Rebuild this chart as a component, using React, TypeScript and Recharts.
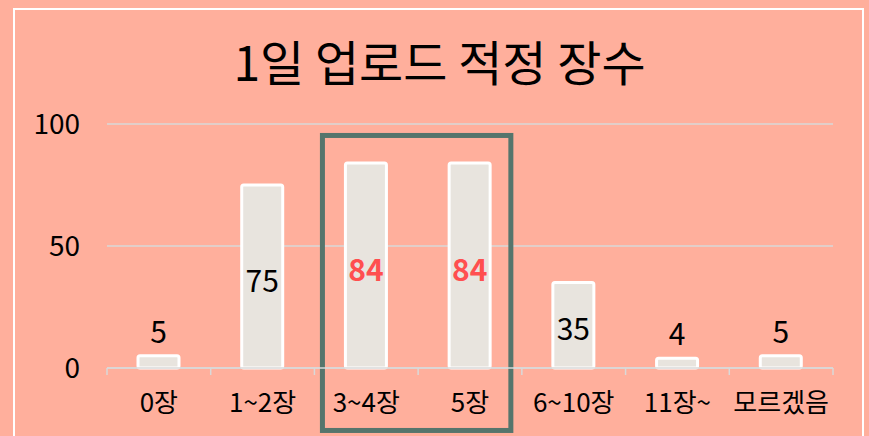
import {
  BarChart,
  Bar,
  XAxis,
  YAxis,
  CartesianGrid,
  LabelList,
  ReferenceArea,
} from "recharts";

const categories = ["0장", "1~2장", "3~4장", "5장", "6~10장", "11장~", "모르겠음"];
const values = [5, 75, 84, 84, 35, 4, 5];
const highlighted = ["3~4장", "5장"];
const yTicks = [0, 50, 100];
// box around the highlighted pair, in value units (runs down past the axis labels)
const boxRange = [-25.6, 95.3];

const data = categories.map((name, i) => ({ name, value: values[i] }));

const FONT = "'Noto Sans CJK KR', 'Noto Sans', sans-serif";
const TICK_MARGIN = 26;
const GRID = "#D9D9D9";

const ValueLabel = (props: any) => {
  const { x, y, width, height, value, index } = props;
  const hot = highlighted.includes(categories[index]);
  const inside = value >= 20;
  const cy = inside ? y + height / 2 + 2 : y - 26;
  return (
    <text
      x={x + width / 2}
      y={cy}
      textAnchor="middle"
      dominantBaseline="central"
      fontSize={30}
      fontFamily={FONT}
      fontWeight={hot ? 700 : 400}
      fill={hot ? "#FF4F4F" : "#000"}
    >
      {value}
    </text>
  );
};

// category label plus tick marks on the band edges (Excel style)
const CategoryTick = (props: any) => {
  const { x, y, payload, index } = props;
  const half = payload?.offset || 726 / categories.length / 2;
  const axisY = y - TICK_MARGIN;
  const last = index === categories.length - 1;
  return (
    <g>
      <line x1={x - half} x2={x - half} y1={axisY} y2={axisY + 7} stroke={GRID} strokeWidth={1.5} />
      {last && (
        <line x1={x + half} x2={x + half} y1={axisY} y2={axisY + 7} stroke={GRID} strokeWidth={1.5} />
      )}
      <text
        x={x}
        y={y}
        dy="0.71em"
        textAnchor="middle"
        fontSize={26}
        fontFamily={FONT}
        fill="#000"
      >
        {payload.value}
      </text>
    </g>
  );
};

const HighlightBox = (props: any) => {
  const { x, y, width, height } = props;
  return (
    <rect
      x={x + 8}
      y={y}
      width={width - 19}
      height={height}
      fill="none"
      stroke="#55756C"
      strokeWidth={5}
    />
  );
};

const App = () => {
  return (
    <div
      style={{
        position: "absolute",
        left: 0,
        top: 0,
        width: 869,
        height: 436,
        background: "#FFAF9C",
        overflow: "hidden",
        fontFamily: FONT,
      }}
    >
      <div
        style={{
          position: "absolute",
          left: 13,
          top: 8,
          width: 847,
          height: 460,
          border: "2px solid #fff",
        }}
      />
      <div
        style={{
          position: "absolute",
          left: 13,
          top: 26,
          width: 853,
          textAlign: "center",
          fontSize: 48,
          lineHeight: "68px",
          color: "#000",
        }}
      >
        1일 업로드 적정 장수
      </div>
      <div style={{ position: "absolute", left: 0, top: 0 }}>
        <BarChart
          width={869}
          height={436}
          data={data}
          margin={{ top: 124, right: 36, bottom: 0, left: 27 }}
        >
          <CartesianGrid vertical={false} stroke={GRID} strokeWidth={1.5} />
          <XAxis
            dataKey="name"
            axisLine={{ stroke: GRID, strokeWidth: 1.5 }}
            tickLine={false}
            tickSize={0}
            tickMargin={TICK_MARGIN}
            height={68}
            interval={0}
            tick={CategoryTick}
          />
          <YAxis
            domain={[0, 100]}
            ticks={yTicks}
            axisLine={false}
            tickLine={false}
            tickSize={0}
            tickMargin={27}
            width={80}
            tick={{ fontSize: 28, fill: "#000", fontFamily: FONT }}
          />
          <Bar
            dataKey="value"
            barSize={41}
            fill="#E8E4DE"
            stroke="#fff"
            strokeWidth={3}
            radius={2}
            isAnimationActive={false}
          >
            <LabelList dataKey="value" content={ValueLabel} />
          </Bar>
          <ReferenceArea
            x1={highlighted[0]}
            x2={highlighted[highlighted.length - 1]}
            y1={boxRange[0]}
            y2={boxRange[1]}
            ifOverflow="visible"
            shape={HighlightBox}
          />
        </BarChart>
      </div>
    </div>
  );
};

export default App;
